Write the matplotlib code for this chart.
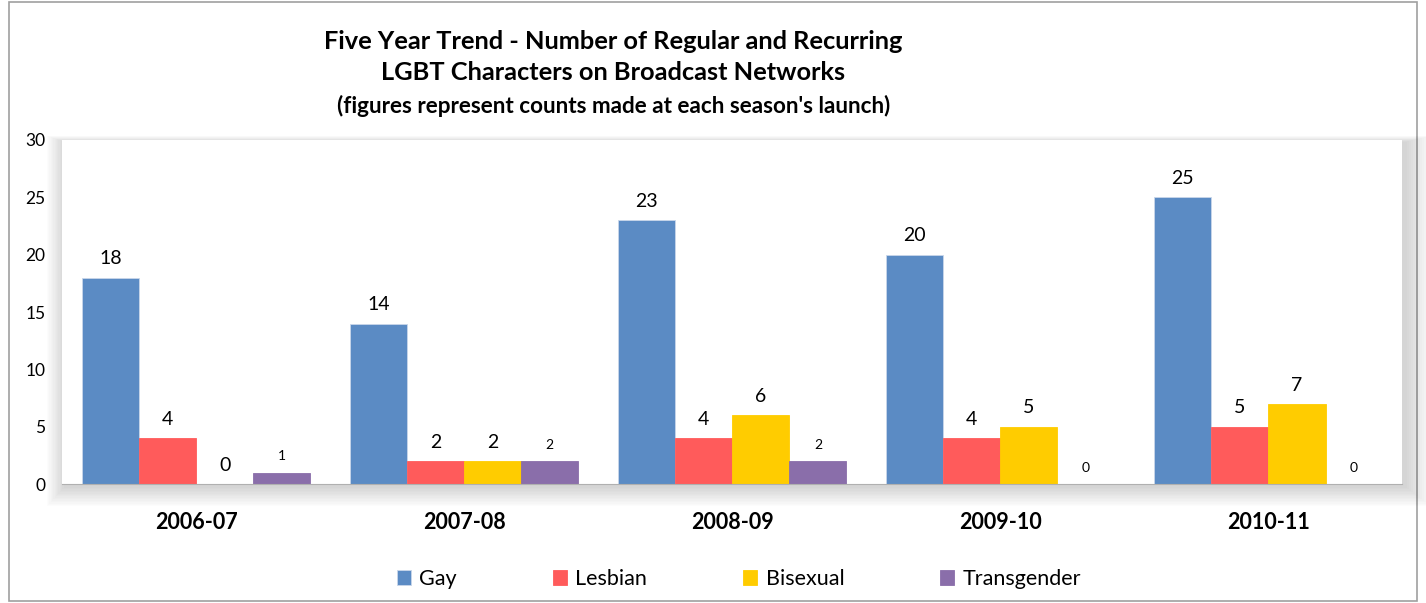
import numpy as np
import matplotlib.pyplot as plt
from matplotlib.patches import Rectangle

seasons = ['2006-07', '2007-08', '2008-09', '2009-10', '2010-11']
gay = [18, 14, 23, 20, 25]
lesbian = [4, 2, 4, 4, 5]
bisexual = [0, 2, 6, 5, 7]
transgender = [1, 2, 2, 0, 0]

series = [('Gay', gay, '#5B8BC4'),
          ('Lesbian', lesbian, '#FF5B5B'),
          ('Bisexual', bisexual, '#FFCC00'),
          ('Transgender', transgender, '#8A6EAA')]

plt.rcParams['font.family'] = ['Lato', 'DejaVu Sans']

fig = plt.figure(figsize=(14.26, 6.03), dpi=100)
fig.patch.set_facecolor('white')

left, bottom, width, height = 0.0435, 0.197, 0.940, 0.571

# background layer: frame + soft shadow behind the plot area
bg = fig.add_axes([0, 0, 1, 1], zorder=0)
bg.set_xlim(0, 1)
bg.set_ylim(0, 1)
bg.axis('off')
bg.add_patch(Rectangle((0.006, 0.003), 0.988, 0.994, fill=False,
                       edgecolor='#A0A0A0', linewidth=1.2))
for i in range(14):
    pad = 0.0013 * (i + 1)
    bg.add_patch(Rectangle((left - pad * 0.7 + 0.002, bottom - pad * 1.8 - 0.004),
                           width + pad * 1.7, height + pad * 2.4,
                           facecolor='black', edgecolor='none', alpha=0.011))

ax = fig.add_axes([left, bottom, width, height], zorder=1)
ax.set_facecolor('white')

x = np.arange(len(seasons))
bw = 0.213
for i, (name, vals, col) in enumerate(series):
    pos = x + (i - 1.5) * bw
    ax.bar(pos, vals, bw, color=col, label=name, edgecolor='#C9D7EA' if i == 0 else col,
           linewidth=0.6, zorder=2)
    fs = 10 if name == 'Transgender' else 14
    for p, v in zip(pos, vals):
        ax.text(p, v + 0.9, str(v), ha='center', va='bottom', fontsize=fs, color='black')

ax.set_xlim(-0.5, len(seasons) - 0.5)
ax.set_ylim(0, 30)
ax.set_yticks(range(0, 31, 5))
ax.set_xticks(x)
ax.set_xticklabels(seasons, fontsize=15.5, fontweight='bold')
ax.tick_params(axis='both', length=0)
ax.tick_params(axis='x', pad=20)
ax.tick_params(axis='y', labelsize=12.5, pad=12)
for s in ['top', 'right', 'left']:
    ax.spines[s].set_visible(False)
ax.spines['bottom'].set_color('#B0B0B0')

fig.text(0.43, 0.932, 'Five Year Trend - Number of Regular and Recurring',
         ha='center', va='center', fontsize=18.3, fontweight='bold')
fig.text(0.43, 0.879, 'LGBT Characters on Broadcast Networks',
         ha='center', va='center', fontsize=18.3, fontweight='bold')
fig.text(0.43, 0.824, "(figures represent counts made at each season's launch)",
         ha='center', va='center', fontsize=16.2, fontweight='bold')

ax.legend(loc='center', bbox_to_anchor=(0.505, -0.275), ncol=4, frameon=False,
          fontsize=15.5, handlelength=0.65, handleheight=0.65, columnspacing=4.45,
          handletextpad=0.4)

fig.savefig('out.png', dpi=100, facecolor=fig.get_facecolor())
